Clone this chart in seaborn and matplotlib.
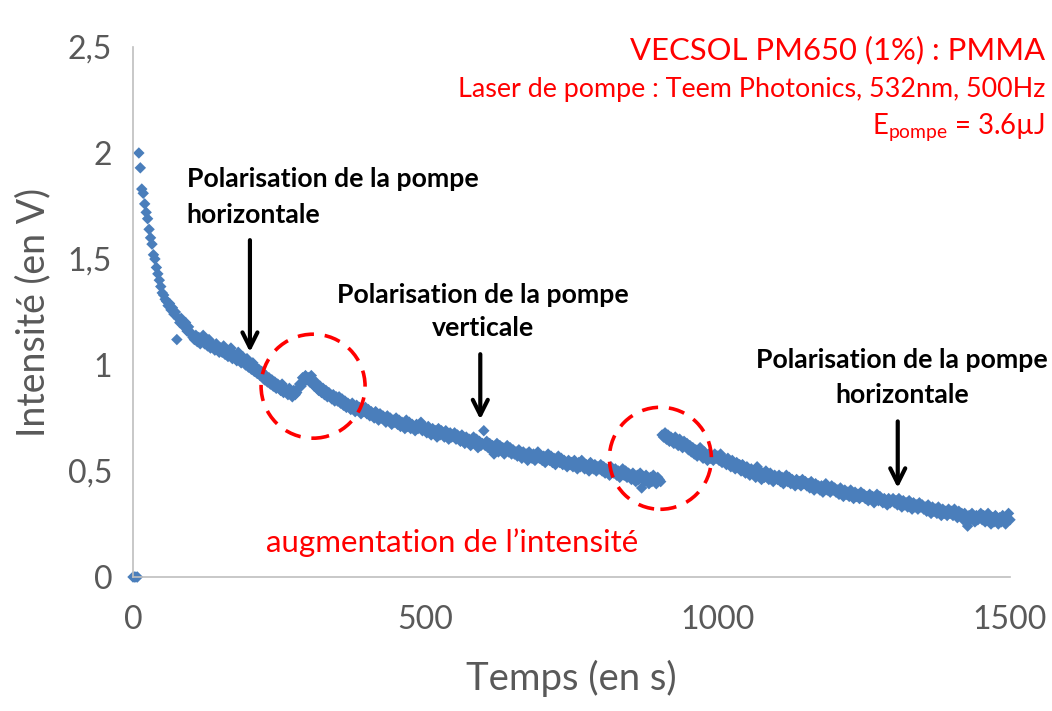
import numpy as np
import pandas as pd
import seaborn as sns
import matplotlib.pyplot as plt
from matplotlib.patches import Ellipse

# Acquisition: one reading every 2.5 s, from 0 to 1500 s
t_start, t_stop, t_step = 0.0, 1500.0, 2.5

# Measured intensity (V), one row per 50 s
intensity = [
    0.00, 0.00, 0.00, 0.00, 2.00, 1.93, 1.83, 1.81, 1.76, 1.72, 1.69, 1.64, 1.60, 1.57, 1.52, 1.50, 1.46, 1.43, 1.40, 1.37,
    1.34, 1.33, 1.31, 1.30, 1.28, 1.29, 1.26, 1.27, 1.24, 1.25, 1.12, 1.22, 1.20, 1.22, 1.19, 1.18, 1.20, 1.16, 1.18, 1.15,
    1.15, 1.13, 1.12, 1.14, 1.11, 1.13, 1.10, 1.12, 1.14, 1.10, 1.11, 1.09, 1.12, 1.08, 1.10, 1.09, 1.07, 1.10, 1.08, 1.06,
    1.08, 1.06, 1.09, 1.05, 1.07, 1.04, 1.06, 1.08, 1.03, 1.05, 1.04, 1.02, 1.06, 1.03, 1.01, 1.04, 1.02, 1.00, 1.03, 0.99,
    1.00, 0.98, 1.01, 0.97, 0.99, 0.96, 0.98, 0.95, 0.97, 0.94, 0.93, 0.95, 0.92, 0.94, 0.91, 0.93, 0.90, 0.92, 0.89, 0.91,
    0.90, 0.88, 0.91, 0.87, 0.89, 0.88, 0.86, 0.89, 0.87, 0.85, 0.88, 0.86, 0.87, 0.89, 0.91, 0.90, 0.94, 0.92, 0.95, 0.93,
    0.94, 0.92, 0.95, 0.91, 0.90, 0.92, 0.89, 0.88, 0.90, 0.87, 0.89, 0.86, 0.88, 0.85, 0.87, 0.86, 0.84, 0.86, 0.83, 0.85,
    0.83, 0.85, 0.82, 0.84, 0.81, 0.83, 0.80, 0.82, 0.81, 0.79, 0.82, 0.80, 0.78, 0.81, 0.79, 0.80, 0.77, 0.79, 0.78, 0.80,
    0.77, 0.79, 0.76, 0.78, 0.77, 0.75, 0.78, 0.76, 0.74, 0.77, 0.75, 0.76, 0.74, 0.73, 0.76, 0.74, 0.75, 0.72, 0.74, 0.73,
    0.75, 0.72, 0.74, 0.71, 0.73, 0.72, 0.70, 0.74, 0.71, 0.73, 0.70, 0.72, 0.71, 0.69, 0.72, 0.70, 0.71, 0.73, 0.69, 0.71,
    0.70, 0.68, 0.71, 0.69, 0.67, 0.70, 0.68, 0.69, 0.66, 0.70, 0.67, 0.69, 0.68, 0.66, 0.69, 0.67, 0.65, 0.68, 0.66, 0.67,
    0.68, 0.65, 0.67, 0.66, 0.64, 0.67, 0.65, 0.63, 0.66, 0.64, 0.65, 0.62, 0.64, 0.66, 0.63, 0.65, 0.61, 0.64, 0.62, 0.63,
    0.69, 0.62, 0.64, 0.61, 0.63, 0.60, 0.62, 0.58, 0.61, 0.63, 0.59, 0.62, 0.60, 0.61, 0.58, 0.60, 0.62, 0.59, 0.61, 0.58,
    0.60, 0.58, 0.59, 0.57, 0.60, 0.58, 0.56, 0.59, 0.57, 0.58, 0.55, 0.59, 0.57, 0.56, 0.58, 0.55, 0.57, 0.59, 0.56, 0.57,
    0.55, 0.57, 0.54, 0.56, 0.58, 0.55, 0.57, 0.54, 0.56, 0.53, 0.55, 0.57, 0.54, 0.56, 0.53, 0.55, 0.54, 0.52, 0.55, 0.53,
    0.54, 0.52, 0.55, 0.53, 0.51, 0.54, 0.52, 0.55, 0.53, 0.51, 0.53, 0.52, 0.50, 0.54, 0.52, 0.51, 0.53, 0.50, 0.52, 0.51,
    0.53, 0.50, 0.52, 0.49, 0.51, 0.50, 0.48, 0.52, 0.50, 0.49, 0.51, 0.48, 0.50, 0.47, 0.49, 0.51, 0.48, 0.50, 0.47, 0.49,
    0.48, 0.46, 0.49, 0.47, 0.45, 0.48, 0.46, 0.49, 0.42, 0.47, 0.45, 0.48, 0.46, 0.44, 0.47, 0.45, 0.48, 0.46, 0.44, 0.47,
    0.46, 0.45, 0.67, 0.66, 0.68, 0.65, 0.67, 0.64, 0.66, 0.65, 0.63, 0.66, 0.64, 0.62, 0.65, 0.63, 0.61, 0.64, 0.62, 0.63,
    0.60, 0.62, 0.59, 0.61, 0.58, 0.60, 0.57, 0.59, 0.61, 0.58, 0.56, 0.59, 0.57, 0.55, 0.58, 0.56, 0.57, 0.55, 0.58, 0.56,
    0.57, 0.55, 0.58, 0.54, 0.56, 0.55, 0.53, 0.56, 0.54, 0.52, 0.55, 0.53, 0.51, 0.54, 0.52, 0.53, 0.50, 0.53, 0.51, 0.49,
    0.52, 0.50, 0.48, 0.51, 0.49, 0.50, 0.47, 0.52, 0.48, 0.50, 0.46, 0.49, 0.47, 0.50, 0.48, 0.46, 0.49, 0.47, 0.45, 0.48,
    0.47, 0.46, 0.48, 0.45, 0.47, 0.44, 0.46, 0.48, 0.45, 0.47, 0.44, 0.46, 0.45, 0.43, 0.46, 0.44, 0.45, 0.43, 0.46, 0.44,
    0.45, 0.43, 0.44, 0.42, 0.45, 0.43, 0.41, 0.44, 0.42, 0.43, 0.41, 0.43, 0.40, 0.42, 0.44, 0.41, 0.42, 0.40, 0.43, 0.41,
    0.42, 0.40, 0.41, 0.39, 0.42, 0.40, 0.38, 0.41, 0.39, 0.40, 0.38, 0.41, 0.39, 0.37, 0.40, 0.38, 0.39, 0.37, 0.40, 0.38,
    0.39, 0.37, 0.38, 0.36, 0.39, 0.37, 0.38, 0.35, 0.37, 0.39, 0.36, 0.38, 0.36, 0.35, 0.37, 0.36, 0.34, 0.37, 0.35, 0.36,
    0.37, 0.35, 0.36, 0.34, 0.37, 0.35, 0.33, 0.36, 0.34, 0.35, 0.33, 0.36, 0.34, 0.32, 0.35, 0.33, 0.34, 0.32, 0.35, 0.33,
    0.34, 0.32, 0.33, 0.31, 0.34, 0.32, 0.30, 0.33, 0.31, 0.32, 0.30, 0.33, 0.31, 0.29, 0.32, 0.30, 0.31, 0.29, 0.32, 0.30,
    0.31, 0.29, 0.32, 0.30, 0.28, 0.31, 0.29, 0.30, 0.27, 0.30, 0.28, 0.24, 0.29, 0.27, 0.30, 0.28, 0.26, 0.29, 0.27, 0.28,
    0.30, 0.27, 0.29, 0.26, 0.28, 0.30, 0.27, 0.25, 0.28, 0.26, 0.29, 0.27, 0.25, 0.28, 0.26, 0.29, 0.27, 0.25, 0.28, 0.30,
    0.27,
]

x_ticks = [0, 500, 1000, 1500]
y_ticks = [0, 0.5, 1, 1.5, 2, 2.5]

title_lines = [
    "VECSOL PM650 (1%) : PMMA",
    "Laser de pompe : Teem Photonics, 532nm, 500Hz",
    r"E$_{\mathrm{pompe}}$ = 3.6µJ",
]

BLUE = "#4a7ebb"
RED = "#ff0000"
GREY_TXT = "#595959"
GREY_AX = "#bfbfbf"

sns.set_theme(style="white")
plt.rcParams["font.family"] = ["Lato", "DejaVu Sans"]
plt.rcParams["mathtext.fontset"] = "custom"
plt.rcParams["mathtext.rm"] = "Lato"
plt.rcParams["mathtext.it"] = "Lato:italic"
plt.rcParams["mathtext.bf"] = "Lato:bold"

time = np.arange(len(intensity)) * t_step + t_start
df = pd.DataFrame({"Temps": time, "Intensite": intensity})

W, H = 1052, 711
fig = plt.figure(figsize=(W / 100, H / 100), dpi=100)
ax = fig.add_axes([133 / W, 1 - 577 / H, (1010 - 133) / W, (577 - 47) / H])

sns.scatterplot(data=df, x="Temps", y="Intensite", marker="D", s=34,
                color=BLUE, edgecolor="none", linewidth=0, ax=ax)
for coll in ax.collections:
    coll.set_clip_on(False)

ax.set_xlim(0, 1500)
ax.set_ylim(0, 2.5)
ax.set_xticks(x_ticks)
ax.set_yticks(y_ticks)
ax.set_xticklabels([f"{v:g}".replace(".", ",") for v in x_ticks])
ax.set_yticklabels([f"{v:g}".replace(".", ",") for v in y_ticks])

for side in ("top", "right"):
    ax.spines[side].set_visible(False)
for side in ("left", "bottom"):
    ax.spines[side].set_color(GREY_AX)
    ax.spines[side].set_linewidth(1.2)
ax.tick_params(axis="both", direction="out", length=9, width=1.2,
               color=GREY_AX, labelcolor=GREY_TXT, labelsize=23)
ax.tick_params(axis="x", pad=11)
ax.tick_params(axis="y", pad=6)

ax.set_xlabel("Temps (en s)", fontsize=27.5, color=GREY_TXT, labelpad=18)
ax.set_ylabel("Intensité (en V)", fontsize=27, color=GREY_TXT, labelpad=12)

# Header block, right aligned in the top-right corner
fig.text(1045 / W, 1 - 50 / H, title_lines[0], ha="right", va="center",
         color=RED, fontsize=22.3)
fig.text(1045 / W, 1 - 90 / H, title_lines[1], ha="right", va="center",
         color=RED, fontsize=19.4)
fig.text(1045 / W, 1 - 127 / H, title_lines[2], ha="right", va="center",
         color=RED, fontsize=19.8)

# Polarisation annotations with arrows
note_kw = dict(fontsize=19.2, fontweight="bold", color="black", va="center")
ax.text(92, 1.879, "Polarisation de la pompe", ha="left", **note_kw)
ax.text(92, 1.706, "horizontale", ha="left", **note_kw)
ax.text(598, 1.332, "Polarisation de la pompe", ha="center", **note_kw)
ax.text(598, 1.173, "verticale", ha="center", **note_kw)
ax.text(1315, 1.023, "Polarisation de la pompe", ha="center", **note_kw)
ax.text(1315, 0.860, "horizontale", ha="center", **note_kw)

arrow_kw = dict(arrowstyle="->,head_length=0.9,head_width=0.45",
                color="black", lw=3, shrinkA=0, shrinkB=0)
for x0, y_top, y_bot in [(200, 1.589, 1.061), (594, 1.051, 0.743),
                         (1308, 0.734, 0.420)]:
    ax.annotate("", xy=(x0, y_bot), xytext=(x0, y_top), arrowprops=arrow_kw)

# Dashed circles around the two intensity jumps
px_per_s = (1010 - 133) / 1500
px_per_v = (577 - 47) / 2.5
for cx, cy, r in [(308, 0.90, 52), (902, 0.56, 51)]:
    ax.add_patch(Ellipse((cx, cy), 2 * r / px_per_s, 2 * r / px_per_v,
                         fill=False, edgecolor=RED, lw=2.6,
                         linestyle=(0, (4.5, 3)), clip_on=False))

ax.text(546, 0.1636, "augmentation de l’intensité", ha="center", va="center",
        color=RED, fontsize=22.5)

fig.savefig("out.png", dpi=100)
